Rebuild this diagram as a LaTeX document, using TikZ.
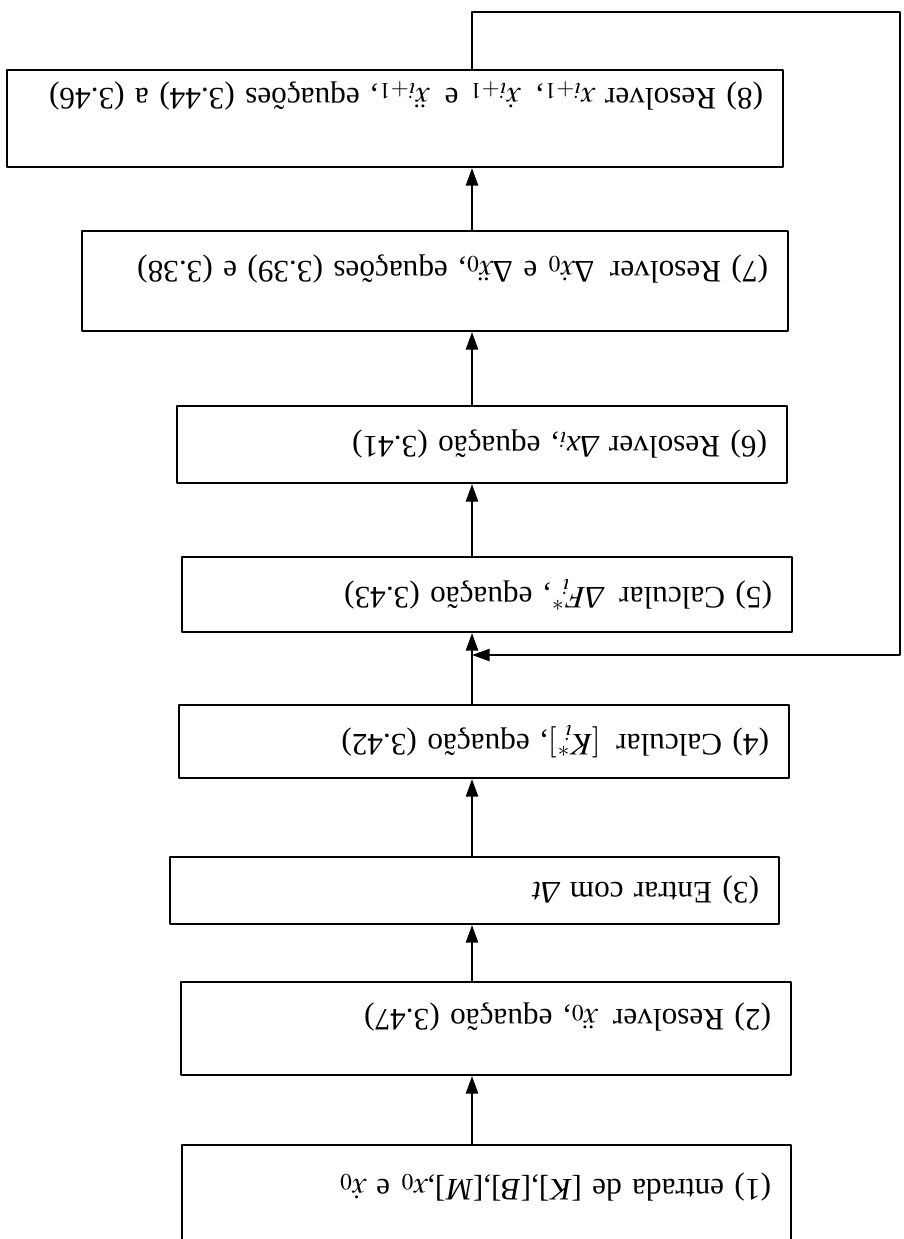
\documentclass[tikz,border=0pt]{standalone}
\usepackage{amsmath}
\usepackage{mathptmx}
\usepackage{fontspec}
\setmainfont{Liberation Serif}
\usetikzlibrary{arrows.meta}
\tikzset{
  every picture/.style={line join=round, line cap=round, >=Stealth},
  caixa/.style={draw, line width=0.8pt, rotate=180, align=left, inner xsep=8pt,
    font=\fontsize{12.5}{15}\selectfont},
  fluxo/.style={line width=0.9pt, -{Triangle[width=4.8pt,length=7pt]}},
}

\begin{document}
\begin{tikzpicture}[x=0.4pt,y=-0.4pt]
\useasboundingbox (0,0) rectangle (903,1239);
\coordinate (eixo) at (472,0);
\coordinate (volta) at (900,12);
\coordinate (juncao) at (472,655);
% caixas do fluxograma (figura de cabeca para baixo)
\node[caixa,text width=227.6pt,minimum height=40pt,text height=15pt] (c1) at (486.5,1195)
  {\mbox{(1) entrada de [\textit{K}],[\textit{B}],[\textit{M}],$x_0$ e $\dot{x}_0$}};
\node[caixa,text width=228pt,minimum height=37.2pt,text height=17.5pt] (c2) at (486,1028.5)
  {\mbox{(2) Resolver \,$\ddot{x}_0$, equação (3.47)}};
\node[caixa,text width=227.6pt,minimum height=26.8pt] (c3) at (474.5,890.5)
  {\mbox{(3) Entrar com \textit{Δt}}};
\node[caixa,text width=228pt,minimum height=29.2pt] (c4) at (484,741.5)
  {\mbox{(4) Calcular \,$\left[K_i^{*}\right]$, equação (3.42)}};
\node[caixa,text width=228pt,minimum height=30pt] (c5) at (487,594.5)
  {\mbox{(5) Calcular \,\textit{Δ}$F_i^{*}$, equação (3.43)}};
\node[caixa,text width=228pt,minimum height=30.8pt] (c6) at (482,444.5)
  {\mbox{(6) Resolver \textit{Δx}$_i$, equação (3.41)}};
\node[caixa,text width=266.4pt,minimum height=40pt,text height=18.3pt] (c7) at (435,281)
  {\mbox{(7) Resolver \,Δ$\dot{x}_0$ e Δ$\ddot{x}_0$, equações (3.39) e (3.38)}};
\node[caixa,text width=294.4pt,minimum height=38.8pt,text height=26.5pt] (c8) at (395,118.5)
  {\mbox{(8) Resolver $x_{i+1}$, \,$\dot{x}_{i+1}$ e \,$\ddot{x}_{i+1}$, equações (3.44) a (3.46)}};
% ligacoes
\foreach \a/\b in {c1/c2,c2/c3,c3/c4,c4/c5,c5/c6,c6/c7,c7/c8}
  \draw[fluxo] (\a.south -| eixo) -- (\b.north -| eixo);
% retorno
\draw[fluxo] (c8.south -| eixo) |- (volta) |- (juncao);
\end{tikzpicture}
\end{document}
